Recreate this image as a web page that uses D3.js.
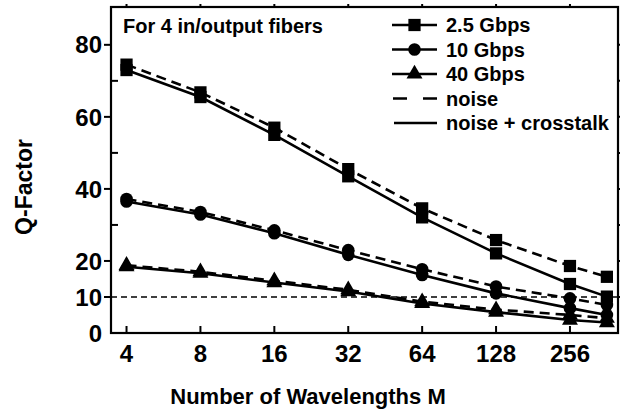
<!DOCTYPE html>
<html>
<head>
<meta charset="utf-8">
<script src="https://cdn.jsdelivr.net/npm/d3@7"></script>
<style>
  body { margin: 0; background: #fff; }
  text { font-family: "Liberation Sans", Arial, sans-serif; font-weight: bold; fill: #000; }
</style>
</head>
<body>
<svg id="chart"></svg>
<script>
// wavelengths M (last point sits half an octave past 256)
const wavelengths = [4, 8, 16, 32, 64, 128, 256, 362];
const xTickValues = [4, 8, 16, 32, 64, 128, 256];
const yTickValues = [0, 10, 20, 30, 40, 50, 60, 70, 80];
const yLabelValues = [0, 10, 20, 40, 60, 80];

// Q-factor, noise only (dashed) and noise + crosstalk (solid)
const q25Noise  = [74.5, 66.8, 57.0, 45.5, 34.6, 25.8, 18.6, 15.6];
const q25Xtalk  = [73.0, 65.5, 55.0, 43.5, 32.1, 22.1, 13.6, 10.1];
const q10Noise  = [37.2, 33.6, 28.5, 23.0, 17.7, 12.9, 9.6, 7.8];
const q10Xtalk  = [36.5, 32.9, 27.7, 21.7, 16.1, 11.0, 6.9, 5.0];
const q40Noise  = [18.8, 17.0, 14.5, 12.0, 8.7, 6.5, 5.0, 4.1];
const q40Xtalk  = [18.4, 16.6, 14.0, 11.5, 8.2, 5.8, 3.6, 2.9];

const threshold = 10;

const legendNames = ['2.5 Gbps', '10 Gbps', '40 Gbps', 'noise', 'noise + crosstalk'];

const width = 620, height = 413;
const margin = {top: 7, right: 2, bottom: 80, left: 111};
const innerW = width - margin.left - margin.right;
const innerH = height - margin.top - margin.bottom;

const svg = d3.select('#chart').attr('width', width).attr('height', height);
const chart = svg.append('g').attr('transform', `translate(${margin.left},${margin.top})`);

const xScale = d3.scaleLog().base(2).domain([3.458, 401.7]).range([0, innerW]);
const yScale = d3.scaleLinear().domain([0, 90.5]).range([innerH, 0]);

const shapes = [d3.symbolSquare, d3.symbolCircle, d3.symbolTriangle];
const shapeSizes = [150, 125, 110];

// threshold line at Q = 10
chart.append('line')
    .attr('x1', 0).attr('x2', innerW)
    .attr('y1', yScale(threshold)).attr('y2', yScale(threshold))
    .attr('stroke', '#000').attr('stroke-width', 1.4)
    .attr('stroke-dasharray', '6,4');

const series = [
  {shape: 0, values: q25Noise, dashed: true},
  {shape: 0, values: q25Xtalk, dashed: false},
  {shape: 1, values: q10Noise, dashed: true},
  {shape: 1, values: q10Xtalk, dashed: false},
  {shape: 2, values: q40Noise, dashed: true},
  {shape: 2, values: q40Xtalk, dashed: false}
];

const line = d3.line()
    .x((d, i) => xScale(wavelengths[i]))
    .y(d => yScale(d));

series.forEach(s => {
  chart.append('path')
      .datum(s.values)
      .attr('d', line)
      .attr('fill', 'none')
      .attr('stroke', '#000')
      .attr('stroke-width', 2.6)
      .attr('stroke-dasharray', s.dashed ? '10,6' : null);
});

series.forEach(s => {
  chart.selectAll(null)
      .data(s.values)
      .join('path')
      .attr('transform', (d, i) => `translate(${xScale(wavelengths[i])},${yScale(d)})`)
      .attr('d', d3.symbol().type(shapes[s.shape]).size(shapeSizes[s.shape]))
      .attr('fill', '#000');
});

// frame
chart.append('rect')
    .attr('width', innerW).attr('height', innerH)
    .attr('fill', 'none').attr('stroke', '#000').attr('stroke-width', 2.2);

// x ticks (inward) and labels
const xAxis = chart.append('g').attr('transform', `translate(0,${innerH})`);
xAxis.selectAll('line')
    .data(xTickValues)
    .join('line')
    .attr('x1', d => xScale(d)).attr('x2', d => xScale(d))
    .attr('y1', 0).attr('y2', -7)
    .attr('stroke', '#000').attr('stroke-width', 2);
xAxis.selectAll('text')
    .data(xTickValues)
    .join('text')
    .attr('x', d => xScale(d))
    .attr('y', 29)
    .attr('text-anchor', 'middle')
    .style('font-size', '24px')
    .text(d => d);

// top mirror ticks
chart.append('g').selectAll('line')
    .data(xTickValues)
    .join('line')
    .attr('x1', d => xScale(d)).attr('x2', d => xScale(d))
    .attr('y1', 0).attr('y2', -3)
    .attr('stroke', '#000').attr('stroke-width', 2);

// y ticks: labelled ones outward, others inward
const yAxis = chart.append('g');
yAxis.selectAll('line')
    .data(yTickValues.filter(d => d > 0))
    .join('line')
    .attr('x1', 0)
    .attr('x2', d => yLabelValues.includes(d) ? -7 : 7)
    .attr('y1', d => yScale(d)).attr('y2', d => yScale(d))
    .attr('stroke', '#000').attr('stroke-width', 2);
yAxis.selectAll('text')
    .data(yLabelValues)
    .join('text')
    .attr('x', -9)
    .attr('y', d => yScale(d))
    .attr('dy', '0.36em')
    .attr('text-anchor', 'end')
    .style('font-size', '24px')
    .text(d => d);

// right mirror ticks
chart.append('g').selectAll('line')
    .data(yTickValues.filter(d => d > 0))
    .join('line')
    .attr('x1', innerW).attr('x2', innerW + 3)
    .attr('y1', d => yScale(d)).attr('y2', d => yScale(d))
    .attr('stroke', '#000').attr('stroke-width', 2);

// axis titles
svg.append('text')
    .attr('x', 308).attr('y', 404)
    .attr('text-anchor', 'middle')
    .style('font-size', '22px')
    .text('Number of Wavelengths M');

svg.append('text')
    .attr('transform', 'translate(32,187) rotate(-90)')
    .attr('text-anchor', 'middle')
    .style('font-size', '23px')
    .text('Q-Factor');

// annotation
svg.append('text')
    .attr('x', 123).attr('y', 33)
    .style('font-size', '20px')
    .text('For 4 in/output fibers');

// legend
const legend = svg.append('g').attr('transform', 'translate(392,25)');
const rowH = 24.5;
legendNames.forEach((name, i) => {
  const row = legend.append('g').attr('transform', `translate(0,${i * rowH})`);
  if (i < 3) {
    row.append('line').attr('x1', 0).attr('x2', 45).attr('y1', 0).attr('y2', 0)
        .attr('stroke', '#000').attr('stroke-width', 2.6);
    row.append('path')
        .attr('transform', 'translate(22.5,0)')
        .attr('d', d3.symbol().type(shapes[i]).size(shapeSizes[i]))
        .attr('fill', '#000');
  } else if (i === 3) {
    row.append('line').attr('x1', 1).attr('x2', 45).attr('y1', 0).attr('y2', 0)
        .attr('stroke', '#000').attr('stroke-width', 2.6)
        .attr('stroke-dasharray', '14,16');
  } else {
    row.append('line').attr('x1', 2).attr('x2', 45).attr('y1', 0).attr('y2', 0)
        .attr('stroke', '#000').attr('stroke-width', 2.6);
  }
  row.append('text')
      .attr('x', 54).attr('y', 0).attr('dy', '0.36em')
      .style('font-size', '20px')
      .text(name);
});
</script>
</body>
</html>
